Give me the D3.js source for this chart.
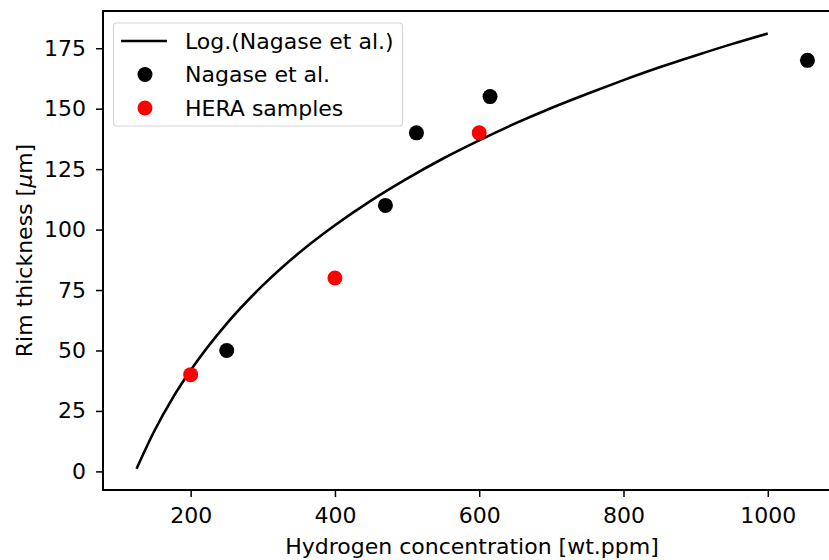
<!DOCTYPE html>
<html><head><meta charset="utf-8">
<script src="https://cdn.jsdelivr.net/npm/d3@7"></script>
<style>body{margin:0;background:#fff;overflow:hidden}svg{display:block}text{font-family:"DejaVu Sans",sans-serif;fill:#000}</style>
</head><body>
<script>
// Data
const nagaseX = [250, 470, 513, 615, 1055];
const nagaseY = [50, 110, 140, 155, 170];
const heraX = [200, 400, 600];
const heraY = [40, 80, 140];
// Log fit curve (Nagase et al.) points
const fitX = [125, 150, 175, 200, 250, 300, 350, 400, 450, 500, 550, 600, 650, 700, 750, 800, 850, 900, 950, 1000];
const fitY = [1.1, 16.9, 30.3, 41.8, 61.1, 76.9, 90.3, 101.8, 112.0, 121.1, 129.4, 136.9, 143.9, 150.3, 156.2, 161.8, 167.1, 172.0, 176.7, 181.1];
const xTicks = [200, 400, 600, 800, 1000];
const yTicks = [0, 25, 50, 75, 100, 125, 150, 175];
const legendLabels = ["Log.(Nagase et al.)", "Nagase et al.", "HERA samples"];

const W = 829, H = 560;
const L = 103, T = 11, R = 841, B = 490;
const svg = d3.select("body").append("svg").attr("width", W).attr("height", H);
const x = d3.scaleLinear().domain([78.5, 1101.5]).range([L, R]);
const y = d3.scaleLinear().domain([-7.7, 190.4]).range([B, T]);

const fs = "22px";
const xAxis = svg.append("g").attr("transform", `translate(0,${B})`)
  .call(d3.axisBottom(x).tickValues(xTicks).tickSize(7).tickPadding(10).tickFormat(d3.format("d")));
const yAxis = svg.append("g").attr("transform", `translate(${L},0)`)
  .call(d3.axisLeft(y).tickValues(yTicks).tickSize(7).tickPadding(10).tickFormat(d3.format("d")));
[xAxis, yAxis].forEach(a => {
  a.select(".domain").remove();
  a.selectAll(".tick line").attr("stroke", "#000").attr("stroke-width", 1.5);
  a.selectAll(".tick text").style("font-size", fs).attr("fill", "#000").style("font-family", "DejaVu Sans");
});

// spines
svg.append("rect").attr("x", L).attr("y", T).attr("width", R - L).attr("height", B - T)
  .attr("fill", "none").attr("stroke", "#000").attr("stroke-width", 2);

// fit line
const line = d3.line().x(d => x(d[0])).y(d => y(d[1])).curve(d3.curveMonotoneX);
svg.append("path").datum(fitX.map((v, i) => [v, fitY[i]]))
  .attr("d", line).attr("fill", "none").attr("stroke", "#000").attr("stroke-width", 2.6);

svg.append("g").selectAll("circle").data(nagaseX.map((v, i) => [v, nagaseY[i]])).join("circle")
  .attr("cx", d => x(d[0])).attr("cy", d => y(d[1])).attr("r", 7.5).attr("fill", "#000");
svg.append("g").selectAll("circle").data(heraX.map((v, i) => [v, heraY[i]])).join("circle")
  .attr("cx", d => x(d[0])).attr("cy", d => y(d[1])).attr("r", 7.5).attr("fill", "#ff0000");

// legend
const lg = svg.append("g");
lg.append("rect").attr("x", 113.5).attr("y", 23).attr("width", 289).attr("height", 103).attr("rx", 3)
  .attr("fill", "#fff").attr("fill-opacity", 0.8).attr("stroke", "#d6d6d6").attr("stroke-width", 1.2);
const rows = [41, 74.5, 108];
lg.append("line").attr("x1", 121).attr("x2", 167).attr("y1", rows[0]).attr("y2", rows[0])
  .attr("stroke", "#000").attr("stroke-width", 2.6);
lg.append("circle").attr("cx", 145).attr("cy", rows[1]).attr("r", 7.5).attr("fill", "#000");
lg.append("circle").attr("cx", 145).attr("cy", rows[2]).attr("r", 7.5).attr("fill", "#ff0000");
legendLabels.forEach((t, i) => {
  lg.append("text").attr("x", 185).attr("y", rows[i]).attr("dy", "0.36em").style("font-size", fs).text(t);
});

// axis labels
svg.append("text").attr("x", (L + R) / 2).attr("y", 554).attr("text-anchor", "middle")
  .style("font-size", fs).text("Hydrogen concentration [wt.ppm]");
const yl = svg.append("text").attr("transform", `translate(32,${(T + B) / 2}) rotate(-90)`)
  .attr("text-anchor", "middle").style("font-size", fs);
yl.append("tspan").text("Rim thickness [");
yl.append("tspan").style("font-style", "italic").text("μ");
yl.append("tspan").text("m]");
</script>
</body></html>
